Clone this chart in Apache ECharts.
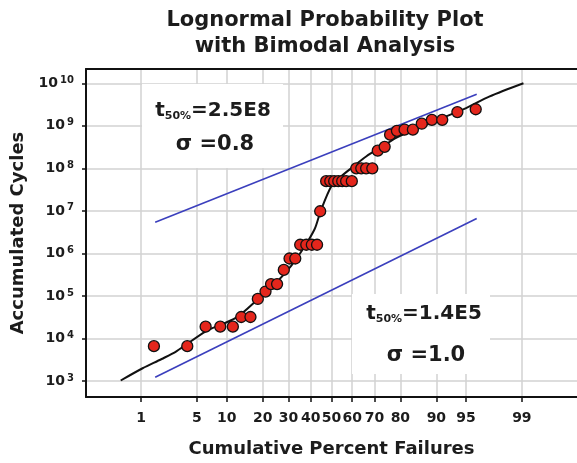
<!DOCTYPE html>
<html>
<head>
<meta charset="utf-8">
<script src="https://cdn.jsdelivr.net/npm/echarts@6/dist/echarts.min.js"></script>
<style>
  html, body { margin: 0; padding: 0; background: #ffffff; }
  #chart { width: 577px; height: 463px; }
</style>
</head>
<body>
<div id="chart"></div>
<script>
// Probability-scale ticks (cumulative percent) and log-scale decades
const tickPercents = [1, 5, 10, 20, 30, 40, 50, 60, 70, 80, 90, 95, 99];
const decadeExponents = [3, 4, 5, 6, 7, 8, 9, 10];

// Observed failures: cumulative percent failed vs accumulated cycles
const failurePercent = [1.5, 3.9, 6.2, 8.7, 11.4, 13.5, 16.1, 18.4, 21.0, 23.0,
  25.3, 28.0, 30.4, 32.9, 35.1, 37.9, 40.5, 43.0, 44.5,
  47.4, 49.4, 51.3, 53.3, 55.2, 57.1, 59.8,
  61.9, 64.2, 66.4, 69.1, 71.4, 74.2, 76.3, 78.8, 81.4, 84.0,
  86.5, 89.0, 91.2, 93.8, 96.1];
const failureCycles = [6.6e3, 6.6e3, 1.9e4, 1.9e4, 1.9e4, 3.2e4, 3.2e4, 8.5e4, 1.27e5, 1.9e5,
  1.9e5, 4.1e5, 7.6e5, 7.6e5, 1.6e6, 1.6e6, 1.6e6, 1.6e6, 9.8e6,
  5.0e7, 5.0e7, 5.0e7, 5.0e7, 5.0e7, 5.0e7, 5.0e7,
  1.0e8, 1.0e8, 1.0e8, 1.0e8, 2.6e8, 3.2e8, 6.2e8, 7.6e8, 8.1e8, 8.1e8,
  1.12e9, 1.38e9, 1.38e9, 2.1e9, 2.45e9];

// Bimodal fit through the data
const fitPercent = [0.5, 1.05, 1.9, 2.9, 6.3, 12.2, 18.4, 25.0, 31.1, 36.3, 41.8, 44.7,
  49.9, 53.9, 60.3, 66.4, 73.5, 78.5, 85.0, 90.7, 95.0, 97.3, 99.05];
const fitCycles = [1.03e3, 2.0e3, 3.3e3, 5.0e3, 1.5e4, 3.1e4, 8.4e4, 2.07e5, 5.1e5, 1.25e6, 3.7e6, 9.8e6,
  3.8e7, 6.0e7, 1.08e8, 1.9e8, 3.3e8, 5.2e8, 8.4e8, 1.44e9, 2.6e9, 4.85e9, 1.0e10];

// Single-mode lognormal lines (t50% = 2.5E8 and t50% = 1.4E5)
const upperModePercent = [1.56, 96.2];
const upperModeCycles = [5.4e6, 5.5e9];
const lowerModePercent = [1.56, 96.2];
const lowerModeCycles = [1.23e3, 6.6e6];

// Standard normal quantile (Acklam's rational approximation)
function probit(p) {
  const a = [-3.969683028665376e+01, 2.209460984245205e+02, -2.759285104469687e+02, 1.383577518672690e+02, -3.066479806614716e+01, 2.506628277459239e+00];
  const b = [-5.447609879822406e+01, 1.615858368580409e+02, -1.556989798598866e+02, 6.680131188771972e+01, -1.328068155288572e+01];
  const c = [-7.784894002430293e-03, -3.223964580411365e-01, -2.400758277161838e+00, -2.549671750376168e+00, 4.374664141464968e+00, 2.938163982698783e+00];
  const d = [7.784695709041462e-03, 3.224671290700398e-01, 2.445134137142996e+00, 3.754408361507113e+00];
  const pl = 0.02425, ph = 1 - pl;
  let q, r;
  if (p < pl) {
    q = Math.sqrt(-2 * Math.log(p));
    return (((((c[0] * q + c[1]) * q + c[2]) * q + c[3]) * q + c[4]) * q + c[5]) / ((((d[0] * q + d[1]) * q + d[2]) * q + d[3]) * q + 1);
  }
  if (p <= ph) {
    q = p - 0.5; r = q * q;
    return (((((a[0] * r + a[1]) * r + a[2]) * r + a[3]) * r + a[4]) * r + a[5]) * q / (((((b[0] * r + b[1]) * r + b[2]) * r + b[3]) * r + b[4]) * r + 1);
  }
  q = Math.sqrt(-2 * Math.log(1 - p));
  return -(((((c[0] * q + c[1]) * q + c[2]) * q + c[3]) * q + c[4]) * q + c[5]) / ((((d[0] * q + d[1]) * q + d[2]) * q + d[3]) * q + 1);
}

const toZ = pct => probit(pct / 100);
const pairs = (pcts, cycles) => pcts.map((p, i) => [toZ(p), Math.log10(cycles[i])]);
const tickZ = tickPercents.map(toZ);

const FONT = 'DejaVu Sans';
const INK = '#1c1c1c';
const GRID = '#d2d2d2';

// Boxed parameter notes drawn over the grid
function noteLabel(x, y, sub, rest) {
  return {
    type: 'text', x: x, y: y, z: 101,
    style: {
      text: '{t|t}{s|' + sub + '}{t|' + rest + '}', align: 'center', verticalAlign: 'middle',
      rich: {
        t: { fontFamily: FONT, fontWeight: 'bold', fontSize: 20, lineHeight: 22, fill: INK },
        s: { fontFamily: FONT, fontWeight: 'bold', fontSize: 11, lineHeight: 4, verticalAlign: 'bottom', fill: INK }
      }
    }
  };
}
function sigmaLabel(x, y, text) {
  return {
    type: 'text', x: x, y: y, z: 101,
    style: { text: text, align: 'center', verticalAlign: 'middle', fontFamily: FONT, fontWeight: 'bold', fontSize: 21, fill: INK }
  };
}
function noteBox(x, y, w, h) {
  return { type: 'rect', z: 100, shape: { x: x, y: y, width: w, height: h }, style: { fill: '#ffffff' } };
}

const chart = echarts.init(document.getElementById('chart'), null, { renderer: 'canvas' });

chart.setOption({
  animation: false,
  backgroundColor: '#ffffff',
  title: {
    text: 'Lognormal Probability Plot\nwith Bimodal Analysis',
    left: 325,
    top: 8,
    textAlign: 'center',
    padding: 0,
    textStyle: {
      fontFamily: FONT, fontWeight: 'bold', fontSize: 21, lineHeight: 26,
      color: INK, align: 'center'
    }
  },
  grid: { left: 86, right: 0, top: 69, bottom: 65 },
  xAxis: [{
    type: 'value',
    min: -3, max: 3,
    position: 'bottom',
    name: 'Cumulative Percent Failures',
    nameLocation: 'middle',
    nameGap: 43,
    nameTextStyle: { fontFamily: FONT, fontWeight: 'bold', fontSize: 18, color: INK },
    axisLine: { show: true, onZero: false, lineStyle: { color: '#111', width: 2 } },
    axisTick: { show: true, customValues: tickZ, length: 5, lineStyle: { color: '#111', width: 1.5 } },
    axisLabel: {
      customValues: tickZ,
      margin: 14,
      fontFamily: FONT, fontWeight: 'bold', fontSize: 14, color: INK,
      formatter: v => {
        const i = tickZ.findIndex(z => Math.abs(z - v) < 1e-6);
        return i >= 0 ? String(tickPercents[i]) : '';
      }
    },
    splitLine: { show: true, lineStyle: { color: GRID, width: 1.5 } }
  }, {
    type: 'value',
    min: -3, max: 3,
    position: 'top',
    axisLine: { show: true, onZero: false, lineStyle: { color: '#111', width: 2 } },
    axisTick: { show: false },
    axisLabel: { show: false },
    splitLine: { show: false }
  }],
  yAxis: {
    type: 'value',
    min: 2.625, max: 10.335,
    name: 'Accumulated Cycles',
    nameLocation: 'middle',
    nameRotate: 90,
    nameGap: 52,
    nameTextStyle: { fontFamily: FONT, fontWeight: 'bold', fontSize: 18, color: INK },
    axisLine: { show: true, onZero: false, lineStyle: { color: '#111', width: 2 } },
    axisTick: { show: true, customValues: decadeExponents, length: 4, lineStyle: { color: '#111', width: 1.5 } },
    axisLabel: {
      customValues: decadeExponents,
      margin: 12,
      formatter: v => '{b|10}{s|' + Math.round(v) + '}',
      rich: {
        b: { fontFamily: FONT, fontWeight: 'bold', fontSize: 14, lineHeight: 16, color: INK },
        s: { fontFamily: FONT, fontWeight: 'bold', fontSize: 10, lineHeight: 10, verticalAlign: 'top', color: INK, padding: [0, 0, 0, 2] }
      }
    },
    splitLine: { show: true, lineStyle: { color: GRID, width: 1.5 } }
  },
  series: [{
    name: 't50% = 2.5E8',
    type: 'line',
    data: pairs(upperModePercent, upperModeCycles),
    showSymbol: false,
    lineStyle: { color: '#3b3fbd', width: 1.6 },
    z: 2
  }, {
    name: 't50% = 1.4E5',
    type: 'line',
    data: pairs(lowerModePercent, lowerModeCycles),
    showSymbol: false,
    lineStyle: { color: '#3b3fbd', width: 1.6 },
    z: 2
  }, {
    name: 'Bimodal fit',
    type: 'line',
    data: pairs(fitPercent, fitCycles),
    showSymbol: false,
    smooth: 0.3,
    lineStyle: { color: '#111', width: 2 },
    z: 3
  }, {
    name: 'Failures',
    type: 'scatter',
    data: pairs(failurePercent, failureCycles),
    symbol: 'circle',
    symbolSize: 11,
    itemStyle: { color: '#e4261c', borderColor: '#111', borderWidth: 1.3, opacity: 1 },
    z: 4
  }],
  graphic: [
    noteBox(142, 84, 141, 84),
    noteLabel(213, 111, '50%', '=2.5E8'),
    sigmaLabel(215, 145, 'σ =0.8'),
    noteBox(352, 294, 138, 80),
    noteLabel(424, 314, '50%', '=1.4E5'),
    sigmaLabel(426, 356, 'σ =1.0')
  ]
});
</script>
</body>
</html>
